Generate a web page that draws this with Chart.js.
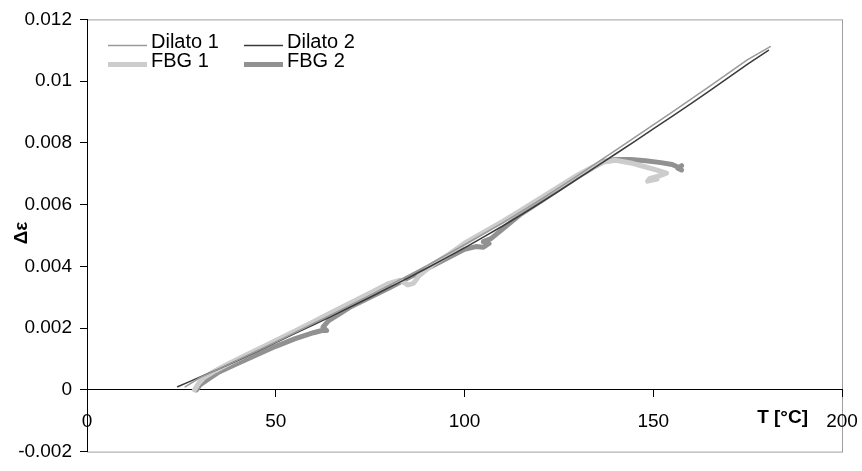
<!DOCTYPE html>
<html>
<head>
<meta charset="utf-8">
<script src="https://cdn.jsdelivr.net/npm/chart.js@4.4.1/dist/chart.umd.min.js"></script>
<style>
  html, body { margin: 0; padding: 0; background: #fff; }
</style>
</head>
<body>
<canvas id="strainChart" width="862" height="471"></canvas>
<script>
// tick labels
const xTicks = [0, 50, 100, 150, 200];
const yTicks = [-0.002, 0, 0.002, 0.004, 0.006, 0.008, 0.01, 0.012];

// Dilato 1 (T in °C, strain)
const dilato1T = [26, 30, 35, 40, 45, 50, 55, 60, 65, 70, 75, 80, 85, 90, 95, 100, 105, 110, 115, 120, 125, 130, 135, 140, 145, 150, 155, 160, 165, 170, 175, 181];
const dilato1E = [0.0001, 0.0004, 0.00068, 0.00097, 0.00126, 0.00155, 0.00185, 0.00215, 0.00245, 0.00276, 0.00307, 0.00338, 0.0037, 0.00402, 0.00436, 0.0047, 0.00505, 0.0054, 0.00577, 0.00615, 0.00654, 0.00694, 0.00735, 0.00776, 0.00817, 0.00858, 0.009, 0.00942, 0.00984, 0.01027, 0.0107, 0.01112];

// Dilato 2
const dilato2T = [24, 27, 30, 35, 40, 45, 50, 55, 60, 65, 70, 75, 80, 85, 90, 95, 100, 105, 110, 115, 120, 125, 130, 135, 140, 145, 150, 155, 160, 165, 170, 175, 180.5];
const dilato2E = [0.0001, 0.00026, 0.00042, 0.00068, 0.00096, 0.00124, 0.00153, 0.00182, 0.00211, 0.0024, 0.0027, 0.003, 0.00331, 0.00362, 0.00394, 0.00427, 0.0046, 0.00495, 0.0053, 0.00567, 0.00605, 0.00644, 0.00684, 0.00724, 0.00764, 0.00804, 0.00845, 0.00886, 0.00927, 0.00969, 0.01012, 0.01055, 0.011];

// FBG 1
const fbg1T = [28.5, 29.5, 31, 34, 38, 42, 46, 50, 55, 60, 65, 70, 75, 80, 83, 85, 86.5, 88, 92, 96, 100, 105, 110, 115, 120, 125, 130, 134, 137, 140, 144, 148, 151, 153.5, 152, 149, 148.5, 151];
const fbg1E = [0, 0.0002, 0.0004, 0.00062, 0.00088, 0.00112, 0.00136, 0.0016, 0.0019, 0.00221, 0.00252, 0.00283, 0.00314, 0.00345, 0.00355, 0.0034, 0.00345, 0.0037, 0.0041, 0.0044, 0.00475, 0.0051, 0.00545, 0.00582, 0.0062, 0.00658, 0.00696, 0.00722, 0.00738, 0.00744, 0.00735, 0.00722, 0.00712, 0.00702, 0.00695, 0.00684, 0.00676, 0.00683];

// FBG 2
const fbg2T = [29, 30, 32, 35, 40, 45, 50, 55, 60, 62.5, 63.5, 62.5, 64, 67, 70, 75, 80, 85, 90, 95, 100, 103, 105, 106.5, 105, 107, 110, 115, 120, 125, 130, 134, 137, 140, 144, 148, 152, 155, 156.5, 157.5, 156.5, 157.5];
const fbg2E = [0, 0.00017, 0.00034, 0.00058, 0.00086, 0.00114, 0.00141, 0.00165, 0.00185, 0.00193, 0.00192, 0.00203, 0.00224, 0.00247, 0.0027, 0.003, 0.0033, 0.00362, 0.00392, 0.00424, 0.00455, 0.00464, 0.00462, 0.00474, 0.0048, 0.0049, 0.0052, 0.0057, 0.0061, 0.0065, 0.0069, 0.0072, 0.0074, 0.00746, 0.00746, 0.00742, 0.00736, 0.0073, 0.00722, 0.00712, 0.00718, 0.00726];

const FONT = '"Liberation Sans", Arial, sans-serif';

function toPoints(ts, es) {
  return ts.map((t, i) => ({ x: t, y: es[i] }));
}

function series(label, ts, es, color, width) {
  return {
    label,
    data: toPoints(ts, es),
    showLine: true,
    borderColor: color,
    backgroundColor: color,
    borderWidth: width,
    borderJoinStyle: "round",
    borderCapStyle: "round",
    pointRadius: 0,
    tension: 0
  };
}

// gray frame around the plot area
const frame = {
  id: "frame",
  beforeDraw(chart) {
    const { ctx, chartArea: a } = chart;
    ctx.save();
    ctx.strokeStyle = "#a0a0a0";
    ctx.lineWidth = 1;
    ctx.strokeRect(a.left + 0.5, a.top + 0.5, a.right - a.left, a.bottom - a.top);
    ctx.restore();
  }
};

// legend in two columns + axis titles
const labels = {
  id: "labels",
  afterDraw(chart) {
    const { ctx, chartArea: a } = chart;
    ctx.save();
    ctx.font = "20px " + FONT;
    ctx.textBaseline = "middle";
    ctx.fillStyle = "#000";
    chart.data.datasets.forEach((ds, i) => {
      const col = i % 2, row = Math.floor(i / 2);
      const x = a.left + 21 + col * 136;
      const y = a.top + 23 + row * 19;
      ctx.strokeStyle = ds.borderColor;
      ctx.lineWidth = ds.borderWidth;
      ctx.beginPath();
      ctx.moveTo(x, y + 3);
      ctx.lineTo(x + 39, y + 3);
      ctx.stroke();
      ctx.fillText(ds.label, x + 43, y);
    });

    ctx.font = "bold 19px " + FONT;
    ctx.textAlign = "right";
    ctx.fillText("T [°C]", 808, 418);

    ctx.translate(22, 233);
    ctx.rotate(-Math.PI / 2);
    ctx.textAlign = "center";
    ctx.fillText("Δε", 0, 0);
    ctx.restore();
  }
};

new Chart(document.getElementById("strainChart"), {
  type: "scatter",
  data: {
    datasets: [
      series("Dilato 1", dilato1T, dilato1E, "#9a9a9a", 1.5),
      series("Dilato 2", dilato2T, dilato2E, "#3a3a3a", 1.5),
      series("FBG 1", fbg1T, fbg1E, "#cccccc", 5),
      series("FBG 2", fbg2T, fbg2E, "#919191", 5)
    ]
  },
  options: {
    responsive: false,
    animation: false,
    layout: { padding: { left: 0, top: 16, right: 20, bottom: 13 } },
    plugins: {
      legend: { display: false },
      tooltip: { enabled: false }
    },
    scales: {
      x: {
        type: "linear",
        position: { y: 0 },
        min: 0,
        max: 200,
        afterBuildTicks: s => { s.ticks = xTicks.map(v => ({ value: v })); },
        afterFit: s => { s.paddingLeft = 0; s.paddingRight = 0; },
        grid: { drawOnChartArea: false, tickLength: 7, color: "#000" },
        border: { color: "#000", width: 1 },
        ticks: { color: "#000", padding: 14, maxRotation: 0, font: { family: FONT, size: 19 } }
      },
      y: {
        type: "linear",
        min: -0.002,
        max: 0.012,
        afterBuildTicks: s => { s.ticks = yTicks.map(v => ({ value: v })); },
        afterFit: s => { s.width = 87; },
        grid: { drawOnChartArea: false, tickLength: 7, color: "#000" },
        border: { color: "#000", width: 1 },
        ticks: {
          color: "#000",
          padding: 8,
          font: { family: FONT, size: 19 },
          callback: v => String(+v.toFixed(3))
        }
      }
    }
  },
  plugins: [frame, labels]
});
</script>
</body>
</html>
